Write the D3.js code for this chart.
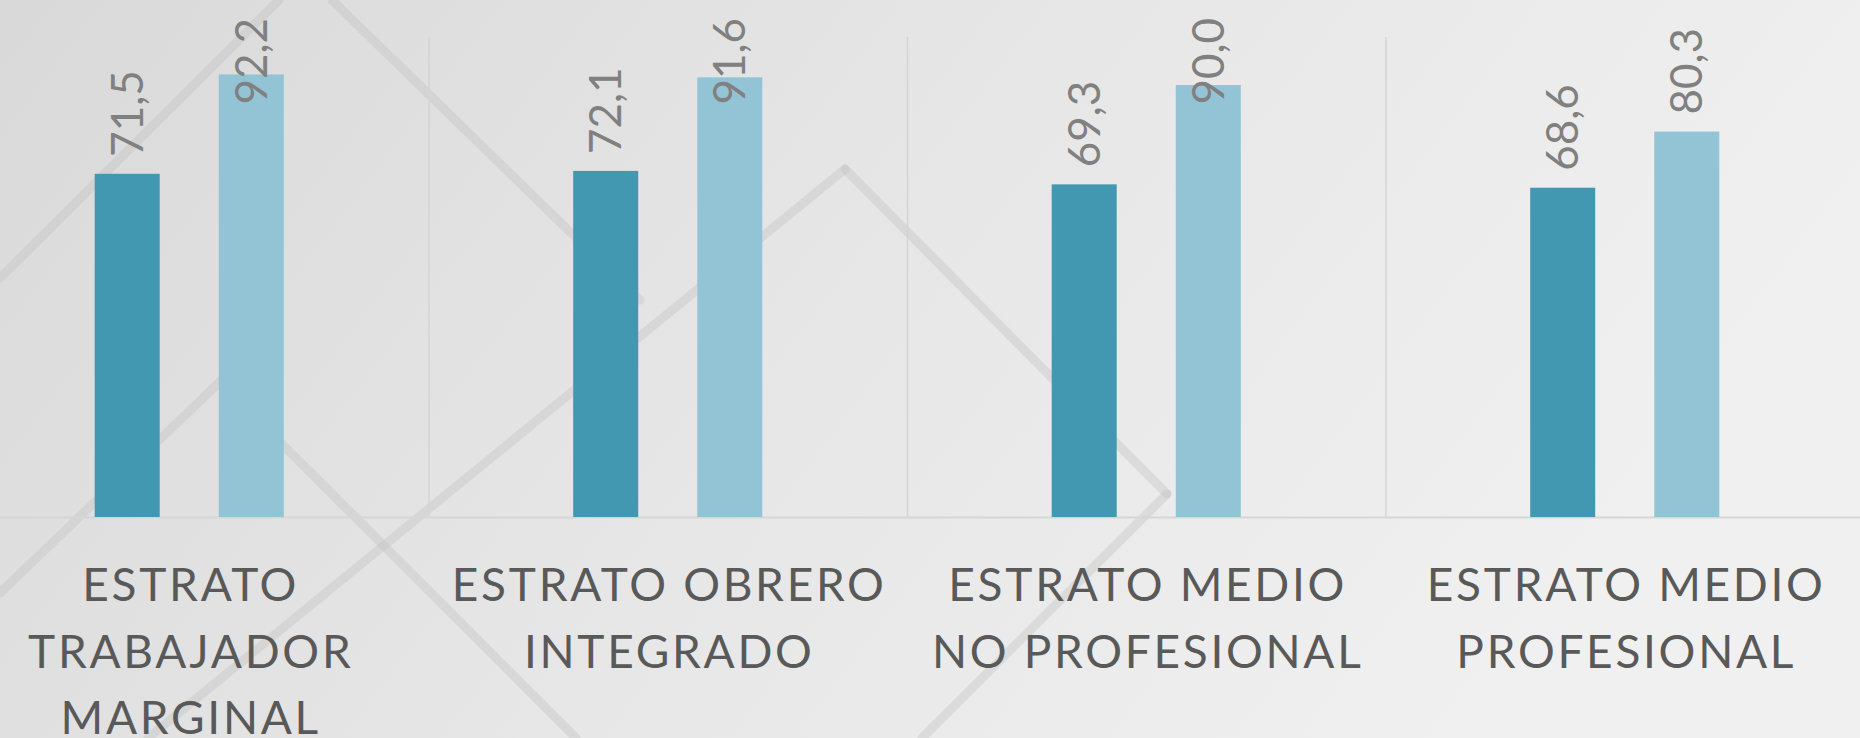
<!DOCTYPE html>
<html>
<head>
<meta charset="utf-8">
<script src="https://cdn.jsdelivr.net/npm/d3@7"></script>
<style>
  html, body { margin: 0; padding: 0; overflow: hidden; }
  body { width: 1860px; height: 738px; }
</style>
</head>
<body>
<div class="chart-container"></div>
<script>
// datos
const categories = ['Estrato trabajador marginal', 'Estrato obrero integrado', 'Estrato medio no profesional', 'Estrato medio profesional'];
const category_labels = [
    ['ESTRATO', 'TRABAJADOR', 'MARGINAL'],
    ['ESTRATO OBRERO', 'INTEGRADO'],
    ['ESTRATO MEDIO', 'NO PROFESIONAL'],
    ['ESTRATO MEDIO', 'PROFESIONAL']
];
const series_names = ['serie_1', 'serie_2'];
const serie_1 = [71.5, 72.1, 69.3, 68.6];
const serie_2 = [92.2, 91.6, 90.0, 80.3];
const series_colors = ['#4398b1', '#93c4d6'];

// 71.5 -> "71,5"
const format_value = v => d3.format('.1f')(v).replace('.', ',');

const svg_width = 1860;
const svg_height = 738;
const chart_top = 37;
const chart_bottom = 517;

const svg = d3.select('.chart-container')
    .append('svg')
    .attr('width', svg_width)
    .attr('height', svg_height);

// fondo
const defs = svg.append('defs');
const grad = defs.append('linearGradient')
    .attr('id', 'bg')
    .attr('x1', '0').attr('y1', '0').attr('x2', '1').attr('y2', '0.3');
grad.append('stop').attr('offset', '0%').attr('stop-color', '#d9d9d9');
grad.append('stop').attr('offset', '55%').attr('stop-color', '#e7e7e7');
grad.append('stop').attr('offset', '100%').attr('stop-color', '#f0f0f0');

svg.append('rect')
    .attr('width', svg_width)
    .attr('height', svg_height)
    .attr('fill', 'url(#bg)');

// lineas decorativas del fondo
const deco = [
    [[0, 278], [279, 0]],
    [[332, 0], [640, 300]],
    [[845, 169], [1167, 494]],
    [[1167, 494], [922, 738]],
    [[845, 169], [148, 738]],
    [[240, 402], [576, 738]],
    [[0, 593], [230, 372]]
];
svg.append('g')
    .selectAll('line')
    .data(deco)
    .join('line')
    .attr('x1', d => d[0][0]).attr('y1', d => d[0][1])
    .attr('x2', d => d[1][0]).attr('y2', d => d[1][1])
    .attr('stroke', '#c4c4c4')
    .attr('stroke-width', 9)
    .attr('stroke-linecap', 'round')
    .attr('stroke-opacity', 0.4);

// escalas
const x0 = d3.scaleBand()
    .domain(categories)
    .range([-50, 1864])
    .padding(0);

const x1 = d3.scaleBand()
    .domain(series_names)
    .range([0, x0.bandwidth()])
    .paddingInner(0.476)
    .paddingOuter(1.166);

const y = d3.scaleLinear()
    .domain([0, 100])
    .range([chart_bottom, chart_top]);

const g = svg.append('g');

// separadores verticales
g.append('g')
    .selectAll('line')
    .data(categories.slice(1))
    .join('line')
    .attr('x1', d => x0(d) + 0.5)
    .attr('x2', d => x0(d) + 0.5)
    .attr('y1', chart_top)
    .attr('y2', chart_bottom)
    .attr('stroke', '#d4d4d4')
    .attr('stroke-width', 1.5);

// eje base
const x_axis = d3.axisBottom(x0).tickSize(0).tickFormat('');
g.append('g')
    .attr('class', 'x axis')
    .attr('transform', `translate(0, ${chart_bottom})`)
    .call(x_axis)
    .call(a => a.select('.domain').attr('stroke', '#d6d6d6').attr('stroke-width', 2));

// datos agrupados
const rows = categories.map((c, i) => ({
    category: c,
    values: [
        {serie: series_names[0], value: serie_1[i], color: series_colors[0]},
        {serie: series_names[1], value: serie_2[i], color: series_colors[1]}
    ]
}));

const groups = g.append('g')
    .selectAll('.group')
    .data(rows)
    .join('g')
    .attr('class', 'group')
    .attr('transform', d => `translate(${x0(d.category)}, 0)`);

groups.selectAll('.bar')
    .data(d => d.values)
    .join('rect')
    .attr('class', 'bar')
    .attr('x', d => x1(d.serie))
    .attr('width', x1.bandwidth())
    .attr('y', d => y(d.value))
    .attr('height', d => chart_bottom - y(d.value))
    .attr('fill', d => d.color);

// etiquetas de valor (rotadas), ajustadas al borde superior
groups.selectAll('.value-label')
    .data(d => d.values)
    .join('text')
    .attr('class', 'value-label')
    .text(d => format_value(d.value))
    .style('font-family', 'Lato, "Open Sans", sans-serif')
    .style('font-size', '44px')
    .style('fill', '#808080')
    .attr('dy', '0.35em')
    .each(function(d) {
        const len = this.getComputedTextLength();
        const base = Math.max(y(d.value) - 17, 18 + len);
        const cx = x1(d.serie) + x1.bandwidth() / 2;
        d3.select(this).attr('transform', `translate(${cx}, ${base}) rotate(-90)`);
    });

// etiquetas de categoria
const cat_labels = g.append('g')
    .selectAll('.cat-label')
    .data(rows)
    .join('text')
    .attr('class', 'cat-label')
    .attr('text-anchor', 'middle')
    .style('font-family', 'Lato, "Open Sans", sans-serif')
    .style('font-size', '46px')
    .style('letter-spacing', '2.7px')
    .style('fill', '#595959');

cat_labels.each(function(d, i) {
    const cx = x0(d.category) + x0.bandwidth() / 2;
    d3.select(this).selectAll('tspan')
        .data(category_labels[i])
        .join('tspan')
        .attr('x', cx + 1.5)
        .attr('y', (t, j) => 601 + j * 66.5)
        .text(t => t);
});
</script>
</body>
</html>
